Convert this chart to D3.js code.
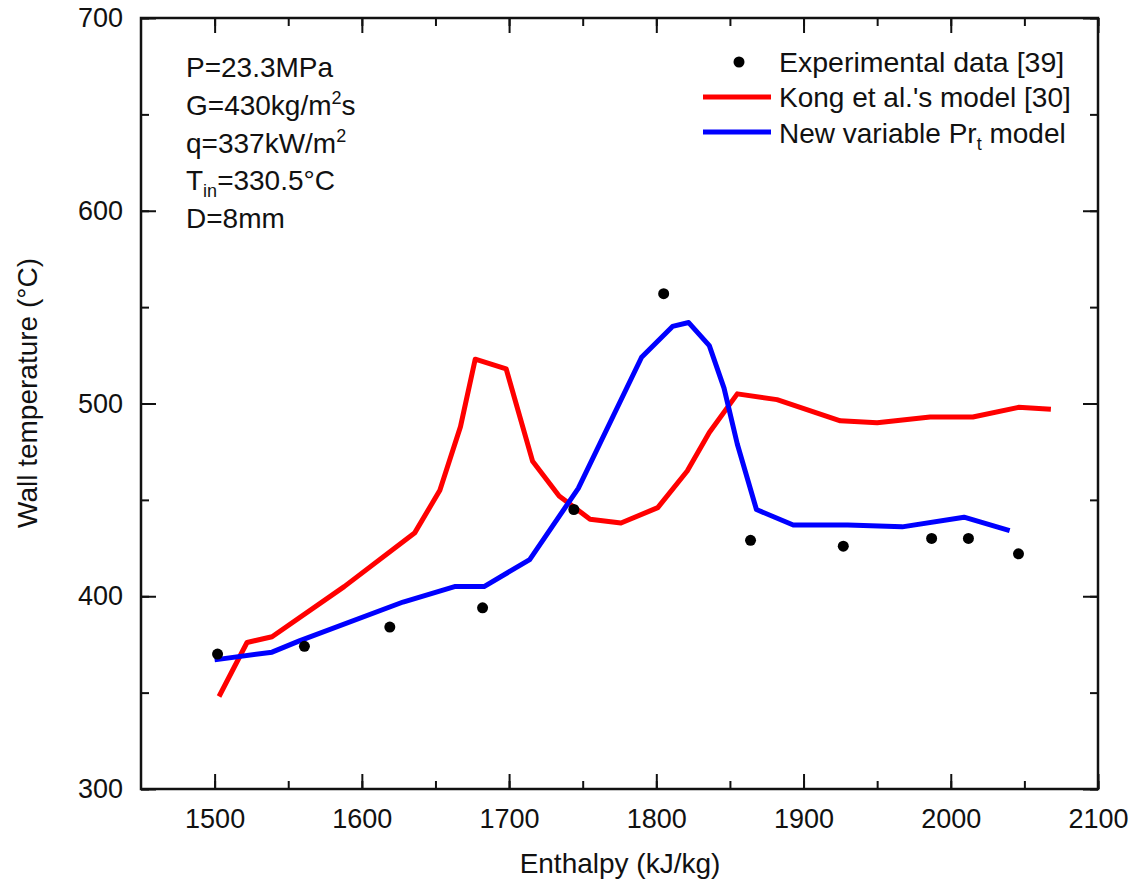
<!DOCTYPE html>
<html>
<head>
<meta charset="utf-8">
<script src="https://cdn.jsdelivr.net/npm/d3@7"></script>
<style>
  body { margin: 0; background: #fff; }
  text { font-family: 'Liberation Sans', Arial, sans-serif; fill: #111; }
</style>
</head>
<body>
<div id="plot"></div>
<script>
var w = 1137;
var h = 886;

// Data Source
var expEnthalpy = [1502, 1561, 1619, 1682, 1744, 1805, 1864, 1927, 1987, 2012, 2046];
var expTemp     = [370, 374, 384, 394, 445, 557, 429, 426, 430, 430, 422];

var kongEnthalpy = [1503, 1522, 1539, 1588, 1636, 1653, 1667, 1677, 1698, 1716, 1734, 1755, 1776, 1801, 1821, 1836, 1855, 1882, 1925, 1950, 1986, 2015, 2046, 2068];
var kongTemp     = [348, 376, 379, 405, 433, 455, 488, 523, 518, 470, 452, 440, 438, 446, 465, 485, 505, 502, 491, 490, 493, 493, 498, 497];

var newEnthalpy = [1500, 1539, 1558, 1628, 1663, 1683, 1714, 1747, 1790, 1811, 1822, 1836, 1846, 1855, 1868, 1893, 1930, 1967, 2009, 2040];
var newTemp     = [367, 371, 377, 397, 405, 405, 419, 456, 524, 540, 542, 530, 508, 479, 445, 437, 437, 436, 441, 434];

var xTicks = [1500, 1600, 1700, 1800, 1900, 2000, 2100];
var yTicks = [300, 400, 500, 600, 700];

var pL = 141, pT = 18, pR = 1098, pB = 789;

var x = d3.scaleLinear().domain([1450, 2100]).range([pL, pR]);
var y = d3.scaleLinear().domain([300, 700]).range([pB, pT]);

var svg = d3.select('#plot').append('svg')
  .attr('width', w)
  .attr('height', h);

function zip(xs, ys) {
  return xs.map(function (v, i) { return { x: v, y: ys[i] }; });
}

svg.append('clipPath').attr('id', 'clip')
  .append('rect').attr('x', pL).attr('y', pT)
  .attr('width', pR - pL).attr('height', pB - pT);

var line = d3.line()
  .x(function (d) { return x(d.x); })
  .y(function (d) { return y(d.y); });

var plot = svg.append('g').attr('clip-path', 'url(#clip)');

plot.append('path')
  .datum(zip(kongEnthalpy, kongTemp))
  .attr('d', line)
  .attr('fill', 'none')
  .attr('stroke', '#ff0000')
  .attr('stroke-width', 5)
  .attr('stroke-linejoin', 'round');

plot.append('path')
  .datum(zip(newEnthalpy, newTemp))
  .attr('d', line)
  .attr('fill', 'none')
  .attr('stroke', '#0000ff')
  .attr('stroke-width', 5)
  .attr('stroke-linejoin', 'round');

plot.selectAll('circle.exp')
  .data(zip(expEnthalpy, expTemp))
  .enter()
  .append('circle')
  .attr('class', 'exp')
  .attr('cx', function (d) { return x(d.x); })
  .attr('cy', function (d) { return y(d.y); })
  .attr('r', 5.5)
  .attr('fill', '#000');

// axes: ticks inward on all four sides
var minorX = d3.range(1500, 2101, 50);
var minorY = d3.range(300, 701, 50);

function styleAxis(g) {
  g.select('.domain').remove();
  g.selectAll('.tick line').attr('stroke', '#111').attr('stroke-width', 2);
  g.selectAll('.tick text').attr('font-size', '27px').attr('fill', '#111');
}

svg.append('g')
  .attr('transform', 'translate(0,' + pB + ')')
  .call(d3.axisBottom(x).tickValues(minorX).tickSize(-8).tickFormat(''))
  .call(styleAxis);
svg.append('g')
  .attr('transform', 'translate(0,' + pB + ')')
  .call(d3.axisBottom(x).tickValues(xTicks).tickSize(-15).tickPadding(20).tickFormat(d3.format('d')))
  .call(styleAxis);

svg.append('g')
  .attr('transform', 'translate(0,' + pT + ')')
  .call(d3.axisTop(x).tickValues(minorX).tickSize(-8).tickFormat(''))
  .call(styleAxis);
svg.append('g')
  .attr('transform', 'translate(0,' + pT + ')')
  .call(d3.axisTop(x).tickValues(xTicks).tickSize(-15).tickFormat(''))
  .call(styleAxis);

svg.append('g')
  .attr('transform', 'translate(' + pL + ',0)')
  .call(d3.axisLeft(y).tickValues(minorY).tickSize(-8).tickFormat(''))
  .call(styleAxis);
svg.append('g')
  .attr('transform', 'translate(' + pL + ',0)')
  .call(d3.axisLeft(y).tickValues(yTicks).tickSize(-15).tickPadding(18).tickFormat(d3.format('d')))
  .call(styleAxis);

svg.append('g')
  .attr('transform', 'translate(' + pR + ',0)')
  .call(d3.axisRight(y).tickValues(minorY).tickSize(-8).tickFormat(''))
  .call(styleAxis);
svg.append('g')
  .attr('transform', 'translate(' + pR + ',0)')
  .call(d3.axisRight(y).tickValues(yTicks).tickSize(-15).tickFormat(''))
  .call(styleAxis);

svg.append('rect')
  .attr('x', pL).attr('y', pT)
  .attr('width', pR - pL).attr('height', pB - pT)
  .attr('fill', 'none').attr('stroke', '#111').attr('stroke-width', 2.5);

// axis titles
svg.append('text')
  .attr('x', 620)
  .attr('y', 873)
  .attr('text-anchor', 'middle')
  .attr('font-size', '28px')
  .text('Enthalpy (kJ/kg)');

svg.append('text')
  .attr('transform', 'translate(37,393) rotate(-90)')
  .attr('text-anchor', 'middle')
  .attr('font-size', '28px')
  .text('Wall temperature (°C)');

// conditions annotation
var notes = svg.append('g').attr('font-size', '28px');
var nx = 186;
notes.append('text').attr('x', nx).attr('y', 77).text('P=23.3MPa');
var t2 = notes.append('text').attr('x', nx).attr('y', 115);
t2.append('tspan').text('G=430kg/m');
t2.append('tspan').attr('font-size', '18px').attr('dy', -11).text('2');
t2.append('tspan').attr('dy', 11).text('s');
var t3 = notes.append('text').attr('x', nx).attr('y', 153);
t3.append('tspan').text('q=337kW/m');
t3.append('tspan').attr('font-size', '18px').attr('dy', -11).text('2');
var t4 = notes.append('text').attr('x', nx).attr('y', 190);
t4.append('tspan').text('T');
t4.append('tspan').attr('font-size', '18px').attr('dy', 7).text('in');
t4.append('tspan').attr('dy', -7).text('=330.5°C');
notes.append('text').attr('x', nx).attr('y', 228).text('D=8mm');

// legend
var lg = svg.append('g').attr('font-size', '28px');
lg.append('circle').attr('cx', 739).attr('cy', 62).attr('r', 5.5).attr('fill', '#000');
lg.append('text').attr('x', 779).attr('y', 72).attr('font-size', '28.5px').text('Experimental data [39]');
lg.append('line').attr('x1', 703).attr('x2', 771).attr('y1', 97).attr('y2', 97)
  .attr('stroke', '#ff0000').attr('stroke-width', 5);
lg.append('text').attr('x', 779).attr('y', 107).text("Kong et al.'s model [30]");
lg.append('line').attr('x1', 703).attr('x2', 771).attr('y1', 132).attr('y2', 132)
  .attr('stroke', '#0000ff').attr('stroke-width', 5);
var l3 = lg.append('text').attr('x', 779).attr('y', 143);
l3.append('tspan').text('New variable Pr');
l3.append('tspan').attr('font-size', '18px').attr('dy', 7).text('t');
l3.append('tspan').attr('dy', -7).text(' model');
</script>
</body>
</html>
